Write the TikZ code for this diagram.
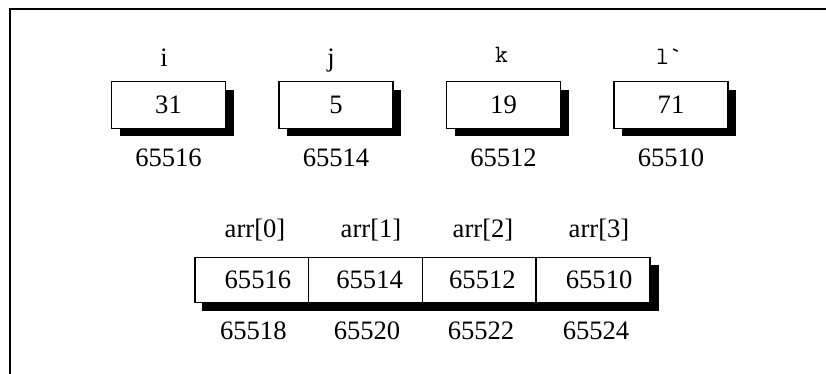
\documentclass[tikz,border=0pt]{standalone}
\usepackage{fontspec}
\setmainfont{Liberation Serif}
\usetikzlibrary{shadows,backgrounds}

\begin{document}
\begin{tikzpicture}[
  x=0.5pt, y=-0.5pt,
  box/.style={rectangle, draw=black, fill=white, line width=0.75pt, inner sep=0pt,
    minimum width=57pt, minimum height=23.3pt,
    drop shadow={shadow xshift=4pt, shadow yshift=-4pt, fill=black, opacity=1}},
  cell/.style={rectangle, draw=black, fill=white, line width=0.75pt, inner sep=0pt,
    minimum width=56.875pt, minimum height=22.7pt},
  varname/.style={anchor=base, inner sep=0pt},
  addr/.style={anchor=base, inner sep=0pt},
  every node/.style={font=\fontsize{13.3}{16}\selectfont}
]
  \useasboundingbox (0,0) rectangle (826,374);
  \draw[line width=1pt] (10,374) -- (10,9.5) -- (826,9.5);

  % the four variables
  \node[box] (bi) at (168.5,105) {31};
  \node[box] (bj) at (336,105) {5};
  \node[box] (bk) at (503.5,105) {19};
  \node[box] (bl) at (671,105) {71};

  \node[varname] (ni) at (164,66.7) {i};
  \node[varname] (nj) at (331,66.7) {j};
  \node[varname, font=\ttfamily\fontsize{12.5}{14}\selectfont] (nk) at (501.5,62.7) {k};
  \node[varname, font=\ttfamily\fontsize{12.5}{14}\selectfont] (nl) at (669,65) {l\char96};

  \node[addr] (ai) at (168.5,166.7) {65516};
  \node[addr] (aj) at (336,166.7) {65514};
  \node[addr] (ak) at (503.5,166.7) {65512};
  \node[addr] (al) at (671,166.7) {65510};

  % the array of pointers
  \node[cell] (c0) at (251.9,280) {\hspace{6pt}65516};
  \node[cell] (c1) at (365.6,280) {\hspace{4pt}65514};
  \node[cell] (c2) at (479.4,280) {\hspace{3pt}65512};
  \node[cell] (c3) at (593.1,280) {\hspace{6pt}65510};
  \begin{scope}[on background layer]
    \fill[black] ([shift={(4pt,-4pt)}]c0.south west) rectangle ([shift={(4pt,-4pt)}]c3.north east);
  \end{scope}

  \node[varname] (n0) at (255,238) {arr[0]};
  \node[varname] (n1) at (371,238) {arr[1]};
  \node[varname] (n2) at (483,238) {arr[2]};
  \node[varname] (n3) at (599,238) {arr[3]};

  \node[addr] (a0) at (253.3,340) {65518};
  \node[addr] (a1) at (367,340) {65520};
  \node[addr] (a2) at (481,340) {65522};
  \node[addr] (a3) at (596,340) {65524};

\end{tikzpicture}
\end{document}
